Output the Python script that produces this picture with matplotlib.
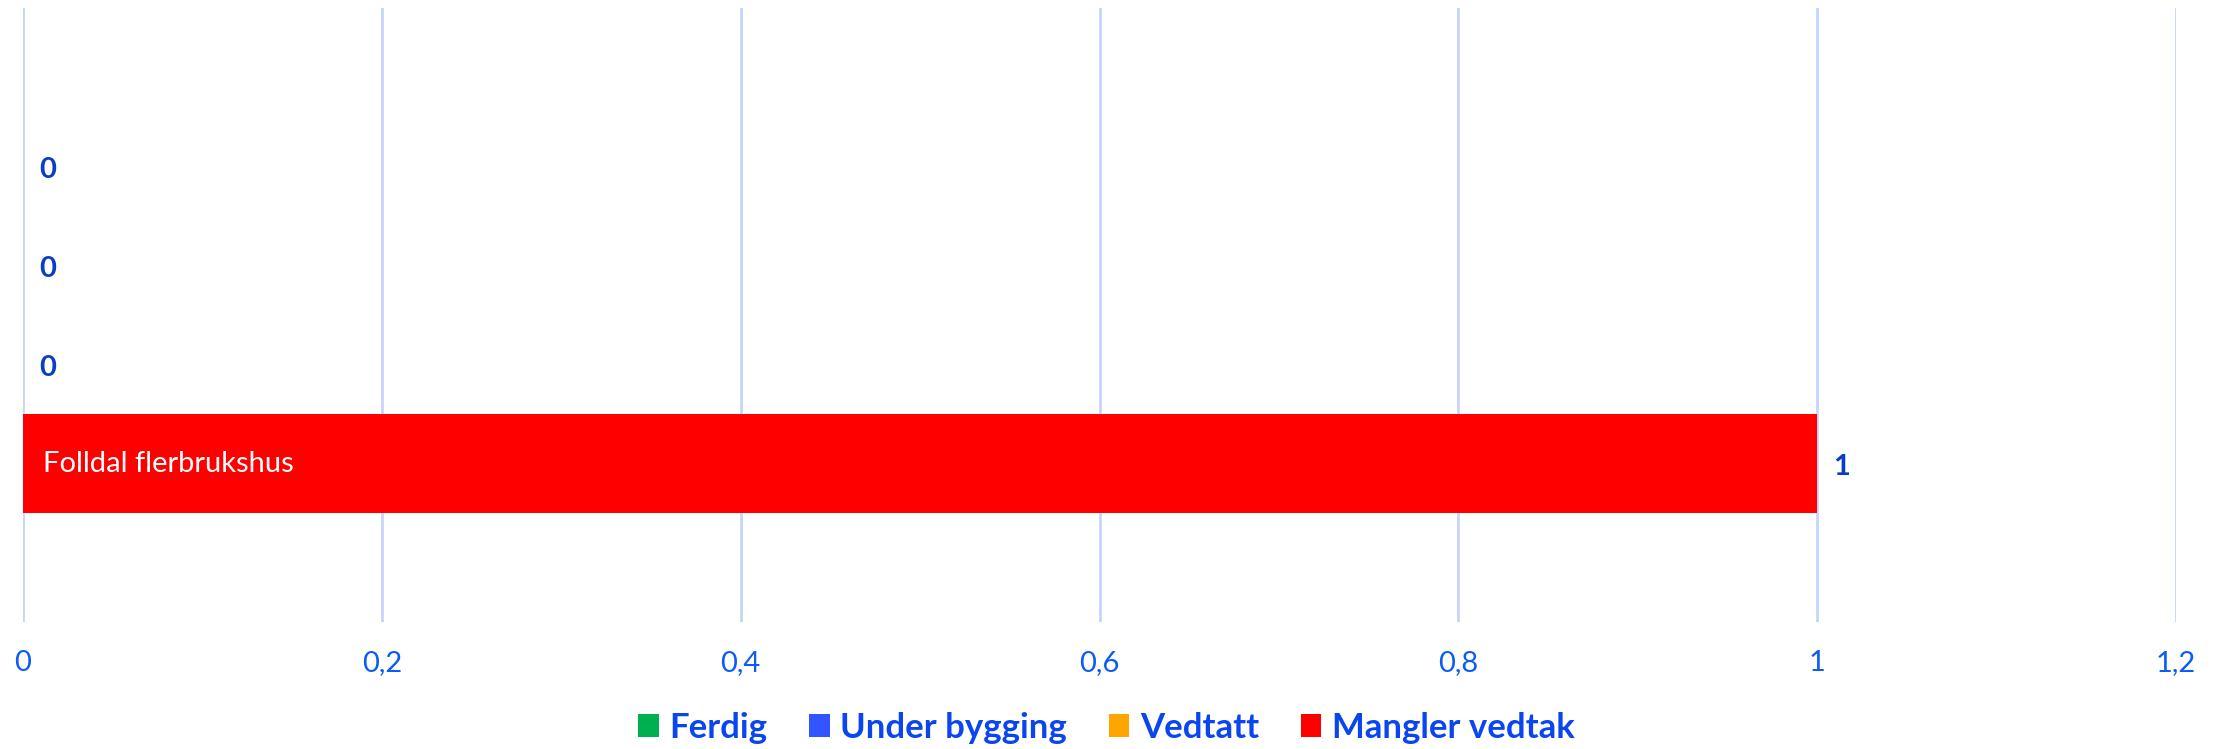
import matplotlib
matplotlib.use("Agg")
import matplotlib.pyplot as plt
from matplotlib.patches import Patch
from matplotlib.ticker import FuncFormatter

plt.rcParams['font.family'] = ['Lato', 'DejaVu Sans']

series = ["Ferdig", "Under bygging", "Vedtatt", "Mangler vedtak"]
values = [0, 0, 0, 1]
colors = ["#00B050", "#3355FF", "#FFA500", "#FF0000"]
bar_text = ["", "", "", "Folldal flerbrukshus"]
xticks = [0, 0.2, 0.4, 0.6, 0.8, 1.0, 1.2]

W, H = 2226, 749
fig = plt.figure(figsize=(W / 100, H / 100), dpi=100)
ax = fig.add_axes([23 / W, 1 - 622 / H, (2176 - 23) / W, (622 - 8) / H])

positions = list(range(len(series)))
for i, (name, v, c, t) in enumerate(zip(series, values, colors, bar_text)):
    ax.barh(positions[i], v, height=1.0, color=c, zorder=3)
    ax.annotate(f"{v:g}", xy=(v, positions[i]), xytext=(11.5, -2.5),
                textcoords="offset points", va="center", ha="left",
                color="#0A3CC8", fontsize=21, fontweight="bold", zorder=4)
    if t:
        ax.annotate(t, xy=(0, positions[i]), xytext=(14.5, 0),
                    textcoords="offset points", va="center", ha="left",
                    color="white", fontsize=21, zorder=4)

ax.set_xlim(0, 1.2)
ax.set_ylim(4.6, -1.6)
ax.set_xticks(xticks)
ax.xaxis.set_major_formatter(FuncFormatter(lambda x, p: f"{x:g}".replace(".", ",")))
ax.tick_params(axis="x", length=0, pad=20, labelsize=21, labelcolor="#0B5BF5")
ax.set_yticks([])
for s in ax.spines.values():
    s.set_visible(False)
ax.grid(axis="x", color="#C5D6FA", linewidth=2, zorder=0)
ax.set_axisbelow(True)

handles = [Patch(facecolor=c, edgecolor="none", label=n) for n, c in zip(series, colors)]
leg = fig.legend(handles=handles, loc="center", bbox_to_anchor=(0.497, 1 - 728 / H),
                 ncol=4, frameon=False, fontsize=25, handlelength=0.6,
                 handleheight=0.65, handletextpad=0.3, columnspacing=1.2)
for txt in leg.get_texts():
    txt.set_color("#0A46F0")
    txt.set_fontweight("bold")

fig.savefig("out.png", dpi=100)
